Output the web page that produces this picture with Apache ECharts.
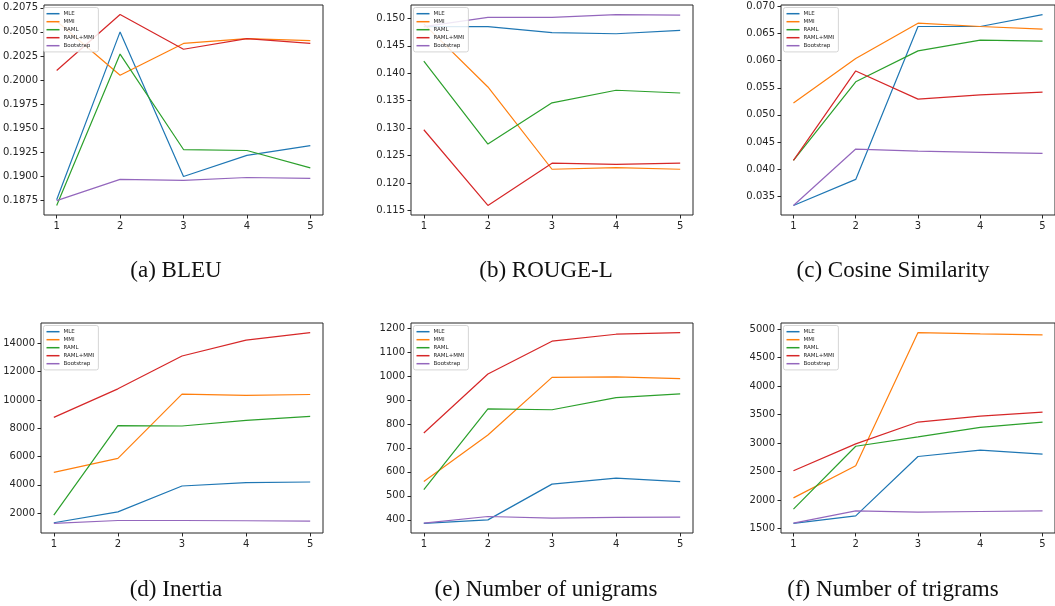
<!DOCTYPE html>
<html>
<head>
<meta charset="utf-8">
<style>
  html, body { margin: 0; padding: 0; background: #fff; }
  #chart { width: 1055px; height: 606px; }
</style>
<script src="https://cdn.jsdelivr.net/npm/echarts@6/dist/echarts.min.js"></script>
</head>
<body>
<div id="chart"></div>
<script>
(function () {
  "use strict";

  // data: rows follow METHODS order
  const XS = [1, 2, 3, 4, 5];
  const METHODS = ["MLE", "MMI", "RAML", "RAML+MMI", "Bootstrap"];

  const bleuVals = [
    [0.1876, 0.2050, 0.1900, 0.1922, 0.1932],
    [0.2061, 0.2005, 0.2038, 0.2043, 0.2041],
    [0.1870, 0.2027, 0.1928, 0.1927, 0.1909],
    [0.2010, 0.2068, 0.2032, 0.2043, 0.2038],
    [0.1875, 0.1897, 0.1896, 0.1899, 0.1898],
  ];
  const rougeVals = [
    [0.1485, 0.1485, 0.1474, 0.1472, 0.1478],
    [0.1490, 0.1375, 0.1225, 0.1228, 0.1225],
    [0.1422, 0.1271, 0.1346, 0.1369, 0.1364],
    [0.1297, 0.1159, 0.1236, 0.1234, 0.1236],
    [0.1485, 0.1502, 0.1502, 0.1507, 0.1506],
  ];
  const cosineVals = [
    [0.0333, 0.0381, 0.0663, 0.0663, 0.0685],
    [0.0522, 0.0604, 0.0669, 0.0663, 0.0658],
    [0.0416, 0.0561, 0.0618, 0.0638, 0.0636],
    [0.0416, 0.0581, 0.0529, 0.0537, 0.0542],
    [0.0333, 0.0437, 0.0433, 0.0431, 0.0429],
  ];
  const inertiaVals = [
    [1320, 2090, 3920, 4160, 4200],
    [4880, 5870, 10420, 10320, 10390],
    [1860, 8190, 8160, 8560, 8840],
    [8770, 10790, 13110, 14230, 14770],
    [1270, 1480, 1480, 1460, 1440],
  ];
  const unigramVals = [
    [385, 400, 549, 574, 559],
    [560, 754, 994, 996, 989],
    [526, 863, 859, 910, 925],
    [762, 1008, 1145, 1174, 1181],
    [386, 414, 407, 410, 411],
  ];
  const trigramVals = [
    [1587, 1721, 2764, 2874, 2804],
    [2036, 2601, 4942, 4918, 4901],
    [1838, 2944, 3107, 3276, 3369],
    [2513, 2985, 3369, 3474, 3544],
    [1593, 1809, 1785, 1797, 1809],
  ];

  const bleuTicks = [0.1875, 0.19, 0.1925, 0.195, 0.1975, 0.2, 0.2025, 0.205, 0.2075];
  const rougeTicks = [0.115, 0.12, 0.125, 0.13, 0.135, 0.14, 0.145, 0.15];
  const cosineTicks = [0.035, 0.04, 0.045, 0.05, 0.055, 0.06, 0.065, 0.07];
  const inertiaTicks = [2000, 4000, 6000, 8000, 10000, 12000, 14000];
  const unigramTicks = [400, 500, 600, 700, 800, 900, 1000, 1100, 1200];
  const trigramTicks = [1500, 2000, 2500, 3000, 3500, 4000, 4500, 5000];

  const CAPTIONS = [
    "(a) BLEU", "(b) ROUGE-L", "(c) Cosine Similarity",
    "(d) Inertia", "(e) Number of unigrams", "(f) Number of trigrams",
  ];

  const COLORS = ["#1f77b4", "#ff7f0e", "#2ca02c", "#d62728", "#9467bd"];
  const INK = "#262626";

  const panels = [
    { vals: bleuVals, ticks: bleuTicks, dec: 4 },
    { vals: rougeVals, ticks: rougeTicks, dec: 3 },
    { vals: cosineVals, ticks: cosineTicks, dec: 3 },
    { vals: inertiaVals, ticks: inertiaTicks, dec: 0 },
    { vals: unigramVals, ticks: unigramTicks, dec: 0 },
    { vals: trigramVals, ticks: trigramTicks, dec: 0 },
  ];

  const COL_LEFT = [41, 411, 781];
  const ROW_TOP = [5, 323];
  const CAP_X = [176, 546, 893];
  const CAP_Y = [271, 590];
  const W = 282, H = 210;

  const grid = [], xAxis = [], yAxis = [], legend = [], series = [], graphic = [];

  panels.forEach((p, i) => {
    const col = i % 3, row = Math.floor(i / 3);
    const left = COL_LEFT[col], top = ROW_TOP[row];
    grid.push({
      left, top, width: W, height: H,
      show: true, borderColor: INK, borderWidth: 1, backgroundColor: "transparent",
    });
    const tick = { show: true, inside: false, length: 3.5, lineStyle: { color: INK, width: 1 } };
    const label = { color: INK, fontSize: 10, fontFamily: "DejaVu Sans", margin: 6 };
    xAxis.push({
      type: "value", gridIndex: i, min: 0.8, max: 5.2,
      axisLine: { show: false }, splitLine: { show: false },
      axisTick: Object.assign({ customValues: XS }, tick),
      axisLabel: Object.assign({ customValues: XS, formatter: (v) => String(v) }, label),
    });
    yAxis.push({
      type: "value", gridIndex: i,
      // matplotlib-like 5% data margins
      min: (e) => e.min - (e.max - e.min) * 0.05,
      max: (e) => e.max + (e.max - e.min) * 0.05,
      axisLine: { show: false }, splitLine: { show: false },
      axisTick: Object.assign({ customValues: p.ticks }, tick),
      axisLabel: Object.assign({ customValues: p.ticks, formatter: (v) => v.toFixed(p.dec) }, label),
    });
    legend.push({
      data: METHODS, orient: "vertical", left: left + 2.5, top: top + 2.5,
      icon: "rect", itemWidth: 13, itemHeight: 1.5, itemGap: 1.6, padding: [3, 4, 3, 3],
      backgroundColor: "rgba(255,255,255,0.85)", borderColor: "#cccccc",
      borderWidth: 0.8, borderRadius: 2, selectedMode: false,
      textStyle: { fontSize: 5.5, lineHeight: 6.4, color: INK, fontFamily: "DejaVu Sans", padding: [0, 0, 0, -1] },
    });
    p.vals.forEach((row, k) => {
      series.push({
        type: "line", name: METHODS[k], xAxisIndex: i, yAxisIndex: i,
        data: XS.map((x, j) => [x, row[j]]),
        symbol: "none", color: COLORS[k],
        lineStyle: { color: COLORS[k], width: 1.2 },
        animation: false,
      });
    });
    graphic.push({
      type: "text", x: CAP_X[col], y: CAP_Y[row],
      style: {
        text: CAPTIONS[i], fill: "#111", fontSize: 23,
        fontFamily: "Liberation Serif", textAlign: "center", textVerticalAlign: "middle",
      },
    });
  });

  const chart = echarts.init(document.getElementById("chart"));
  chart.setOption({
    backgroundColor: "#fff",
    animation: false,
    grid, xAxis, yAxis, legend, series, graphic,
  });
})();
</script>
</body>
</html>
